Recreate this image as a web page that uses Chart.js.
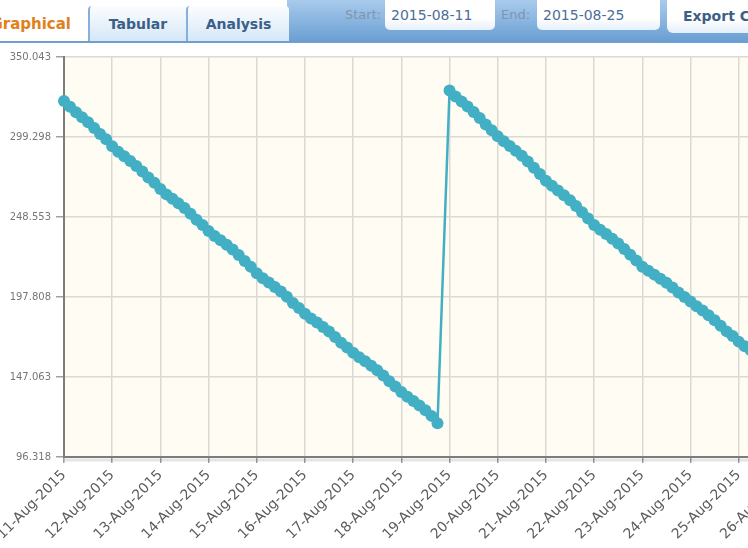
<!DOCTYPE html>
<html lang="en">
<head>
    <meta charset="UTF-8">
    <title>Graphical</title>
    <script src="https://cdn.jsdelivr.net/npm/chart.js"></script>
    <style>
        html, body {
            margin: 0;
            padding: 0;
            width: 748px;
            height: 548px;
            overflow: hidden;
            background: #ffffff;
            font-family: "DejaVu Sans", Verdana, sans-serif;
        }
        #blueBar {
            position: absolute;
            left: 287px;
            top: 0;
            width: 461px;
            height: 41px;
            background: linear-gradient(#a8cbec, #6b9fd3);
        }
        #lineBar {
            position: absolute;
            left: 0;
            top: 41px;
            width: 748px;
            height: 2px;
            background: #6d9fd2;
        }
        .tab {
            position: absolute;
            top: 6px;
            height: 35px;
            line-height: 37px;
            text-align: center;
            font-weight: bold;
            font-size: 14px;
            color: #3b5f88;
            background: linear-gradient(#fbfdff, #d6e7f7);
            border-left: 2px solid #86b0dc;
            border-radius: 4px 4px 0 0;
        }
        #tabGraph {
            left: -40px;
            width: 111px;
            text-align: right;
            font-size: 15px;
            color: #e2801c;
            background: #ffffff;
            border-left: none;
        }
        #tabTab { left: 88px; width: 96px; }
        #tabAna { left: 186px; width: 101px; }
        .lbl {
            position: absolute;
            top: 7px;
            font-size: 13px;
            color: #7f95ad;
        }
        .field {
            position: absolute;
            top: 0;
            height: 30px;
            line-height: 30px;
            padding-left: 6px;
            font-size: 14px;
            color: #4d6e96;
            background: linear-gradient(#ffffff 60%, #e6f0fa);
            border-radius: 0 0 5px 5px;
            box-sizing: border-box;
        }
        #exportBtn {
            position: absolute;
            left: 667px;
            top: 0;
            width: 110px;
            height: 33px;
            line-height: 33px;
            padding-left: 16px;
            box-sizing: border-box;
            font-size: 14px;
            font-weight: bold;
            color: #3d5f86;
            white-space: nowrap;
            background: linear-gradient(#ffffff 60%, #e3eef9);
            border-radius: 0 0 0 6px;
        }
        #chartBox {
            position: absolute;
            left: -3px;
            top: 46px;
            width: 833px;
            height: 502px;
        }
    </style>
</head>
<body>
    <div id="blueBar"></div>
    <div id="lineBar"></div>
    <div class="tab" id="tabGraph">Graphical</div>
    <div class="tab" id="tabTab">Tabular</div>
    <div class="tab" id="tabAna">Analysis</div>
    <div class="lbl" style="left:345px;">Start:</div>
    <div class="field" style="left:385px; width:110px;">2015-08-11</div>
    <div class="lbl" style="left:501px;">End:</div>
    <div class="field" style="left:537px; width:123px;">2015-08-25</div>
    <div id="exportBtn">Export Chart</div>

    <div id="chartBox">
        <canvas id="levelChart"></canvas>
    </div>

    <script>
        // dia del mes en que empieza la serie (11-Aug-2015 00:00)
        const startDay = 11;

        // horas desde el inicio de cada lectura
        const readHours = [
            0, 3, 6, 9, 12, 15, 18, 21,
            24, 27, 30, 33, 36, 39, 42, 45,
            48, 51, 54, 57, 60, 63, 66, 69,
            72, 75, 78, 81, 84, 87, 90, 93,
            96, 99, 102, 105, 108, 111, 114, 117,
            120, 123, 126, 129, 132, 135, 138, 141,
            144, 147, 150, 153, 156, 159, 162, 165,
            168, 171, 174, 177, 180, 183, 186,
            192, 195, 198, 201, 204, 207, 210, 213,
            216, 219, 222, 225, 228, 231, 234, 237,
            240, 243, 246, 249, 252, 255, 258, 261,
            264, 267, 270, 273, 276, 279, 282, 285,
            288, 291, 294, 297, 300, 303, 306, 309,
            312, 315, 318, 321, 324, 327, 330, 333,
            336, 339, 342, 345, 348, 351, 354, 357,
            360
        ];

        const readValues = [
            322.2, 318.5, 315.0, 311.8, 308.6, 305.0, 301.2, 297.9,
            293.4, 290.0, 287.1, 284.0, 280.9, 277.4, 273.6, 270.3,
            266.3, 262.9, 260.1, 257.2, 254.2, 250.6, 246.8, 243.5,
            239.6, 236.5, 233.8, 230.9, 228.0, 224.5, 220.6, 217.0,
            212.9, 209.7, 207.0, 204.2, 201.3, 197.9, 194.0, 190.8,
            187.2, 184.2, 181.6, 178.8, 175.9, 172.5, 168.8, 165.8,
            162.5, 159.6, 157.0, 154.2, 151.3, 148.0, 144.3, 141.1,
            137.6, 134.6, 131.8, 129.0, 126.0, 122.4, 117.8,
            328.8, 325.0, 321.8, 318.6, 315.2, 311.4, 307.2, 303.6,
            299.8, 296.6, 293.6, 290.5, 287.4, 283.8, 279.8, 275.8,
            271.6, 268.4, 265.4, 262.3, 259.2, 255.6, 251.6, 247.6,
            243.5, 240.5, 237.7, 234.8, 231.8, 228.2, 224.6, 221.0,
            217.0, 214.4, 212.0, 209.4, 206.8, 203.8, 200.6, 197.8,
            195.0, 192.0, 189.2, 186.2, 183.0, 179.6, 176.0, 173.0,
            169.5, 166.6, 164.0, 161.2, 158.4, 155.0, 151.4, 148.2,
            144.6
        ];

        const dayTicks = [11, 12, 13, 14, 15, 16, 17, 18, 19, 20, 21, 22, 23, 24, 25, 26];
        const dayLabels = [
            '11-Aug-2015', '12-Aug-2015', '13-Aug-2015', '14-Aug-2015',
            '15-Aug-2015', '16-Aug-2015', '17-Aug-2015', '18-Aug-2015',
            '19-Aug-2015', '20-Aug-2015', '21-Aug-2015', '22-Aug-2015',
            '23-Aug-2015', '24-Aug-2015', '25-Aug-2015', '26-Aug-2015'
        ];

        const yTicks = [96.318, 147.063, 197.808, 248.553, 299.298, 350.043];
        const yLabels = ['96.318', '147.063', '197.808', '248.553', '299.298', '350.043'];

        const points = readHours.map((h, i) => ({ x: startDay + h / 24, y: readValues[i] }));

        // fondo crema del area de la grafica + sombra del eje inferior
        const plotBackground = {
            id: 'plotBackground',
            beforeDraw(chart) {
                const { ctx, chartArea: a } = chart;
                ctx.save();
                ctx.fillStyle = '#fefcf3';
                ctx.fillRect(a.left, a.top, a.right - a.left, a.bottom - a.top);
                ctx.restore();
            },
            afterDraw(chart) {
                const { ctx, chartArea: a } = chart;
                ctx.save();
                ctx.strokeStyle = 'rgba(0,0,0,0.10)';
                ctx.lineWidth = 3;
                ctx.beginPath();
                ctx.moveTo(a.left, a.bottom + 3);
                ctx.lineTo(a.right, a.bottom + 3);
                ctx.stroke();
                ctx.restore();
            }
        };

        const ctx = document.getElementById('levelChart').getContext('2d');
        const levelChart = new Chart(ctx, {
            type: 'line',
            data: {
                datasets: [{
                    data: points,
                    borderColor: '#43afc4',
                    backgroundColor: '#43afc4',
                    borderWidth: 2.5,
                    pointRadius: 6,
                    pointHoverRadius: 6,
                    pointBorderWidth: 0,
                    tension: 0,
                    fill: false,
                    clip: false
                }]
            },
            options: {
                responsive: true,
                maintainAspectRatio: false,
                animation: false,
                layout: { padding: { top: 10, right: 19, left: 0, bottom: 0 } },
                plugins: {
                    legend: { display: false },
                    tooltip: { enabled: false }
                },
                scales: {
                    x: {
                        type: 'linear',
                        min: 11,
                        max: 26.5,
                        afterBuildTicks: (scale) => {
                            scale.ticks = dayTicks.map(v => ({ value: v }));
                        },
                        afterFit: (scale) => {
                            scale.height = 91;
                            scale.paddingLeft = 0;
                            scale.paddingRight = 0;
                        },
                        ticks: {
                            autoSkip: false,
                            minRotation: 45,
                            maxRotation: 45,
                            padding: 4,
                            color: '#5c5c5c',
                            font: { family: 'DejaVu Sans', size: 14 },
                            callback: (v, i) => dayLabels[i]
                        },
                        grid: {
                            color: '#dcd9d3',
                            lineWidth: 1.5,
                            tickLength: 6,
                            tickColor: '#a0a0a0'
                        },
                        border: { color: '#7c7c7c', width: 2 }
                    },
                    y: {
                        min: 96.318,
                        max: 350.043,
                        afterBuildTicks: (scale) => {
                            scale.ticks = yTicks.map(v => ({ value: v }));
                        },
                        afterFit: (scale) => {
                            scale.width = 67;
                        },
                        ticks: {
                            padding: 5,
                            color: '#767676',
                            font: { family: 'DejaVu Sans', size: 10 },
                            callback: (v, i) => yLabels[i]
                        },
                        grid: {
                            color: '#dcd9d3',
                            lineWidth: 1.5,
                            tickLength: 8,
                            tickColor: '#a0a0a0'
                        },
                        border: { color: '#7c7c7c', width: 2 }
                    }
                }
            },
            plugins: [plotBackground]
        });
    </script>
</body>
</html>
